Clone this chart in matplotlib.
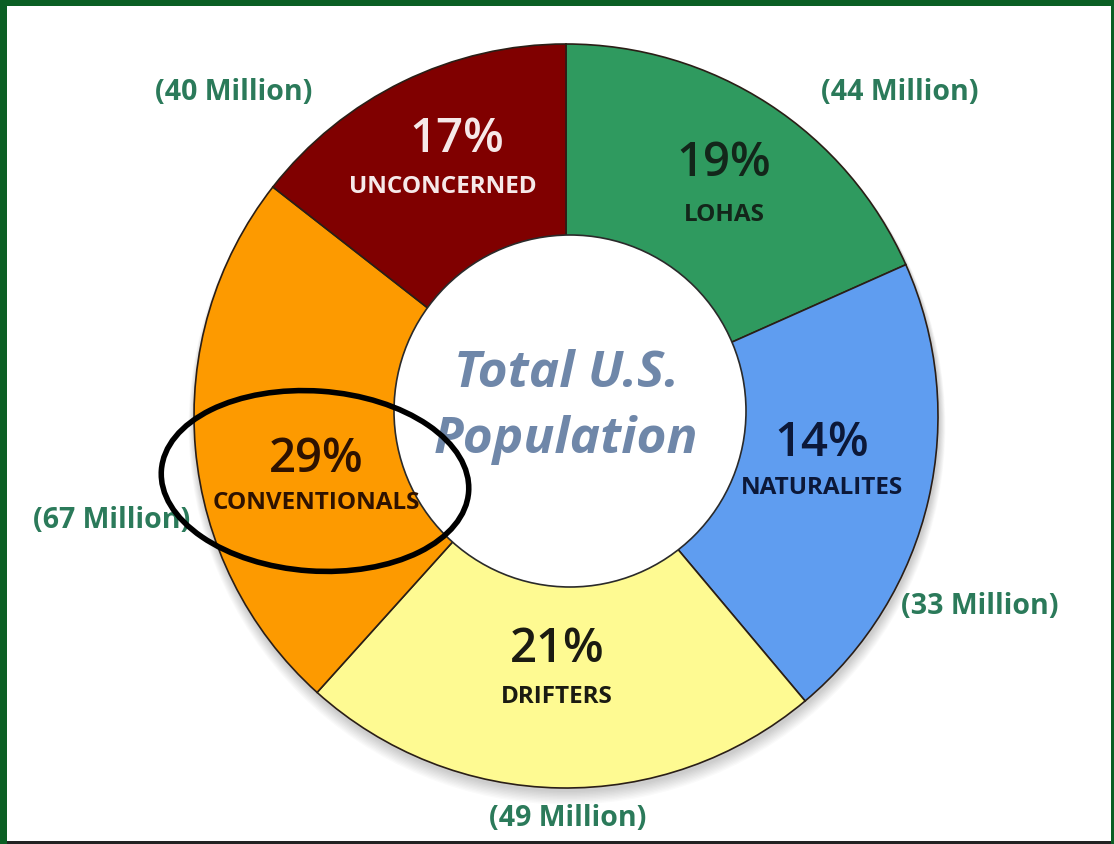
import matplotlib
matplotlib.use("Agg")
import matplotlib.pyplot as plt
from matplotlib.patches import Circle, Ellipse, Rectangle

# ---- data ----
segments = ["LOHAS", "NATURALITES", "DRIFTERS", "CONVENTIONALS", "UNCONCERNED"]
percent_labels = ["19%", "14%", "21%", "29%", "17%"]
millions = ["(44 Million)", "(33 Million)", "(49 Million)", "(67 Million)", "(40 Million)"]
# wedge sweep as drawn in the picture (degrees)
drawn_degrees = [66, 74, 82, 86, 52]
colors = ["#2f9a5f", "#5f9df0", "#fefa92", "#fd9a00", "#800000"]
text_colors = ["#13261a", "#0c1838", "#1b1b12", "#2e1200", "#f6e9e9"]

W, H = 1114, 844
fig = plt.figure(figsize=(W / 100, H / 100), dpi=100)
ax = fig.add_axes([0, 0, 1, 1])
ax.set_facecolor("white")


def Y(p):
    return H - p


cx, cy, R = 566, Y(416), 372

# soft shadow
for i in range(10):
    ax.add_patch(Circle((cx + 1, cy - 3 - i * 0.8), R + 1 + i * 0.6,
                        facecolor="black", edgecolor="none", alpha=0.018, zorder=1))

wedges, _ = ax.pie(drawn_degrees, colors=colors, startangle=90, counterclock=False,
                   center=(cx, cy), radius=R,
                   wedgeprops=dict(edgecolor="#2a1e16", linewidth=1.2))
for w in wedges:
    w.set_zorder(2)

# hole
ax.add_patch(Circle((570, Y(411)), 176, facecolor="white", edgecolor="#2a2a2a",
                    linewidth=1.2, zorder=3))

FONT = "Open Sans"
pct_pos = [(724, 163), (822, 443), (557, 650), (316, 460), (457, 140)]
name_pos = [(724, 215), (822, 488), (557, 697), (316, 503), (443, 187)]
for i, s in enumerate(segments):
    ax.text(pct_pos[i][0], Y(pct_pos[i][1]), percent_labels[i], ha="center", va="center",
            fontsize=34, fontweight="semibold", color=text_colors[i], family=FONT, zorder=5)
    ax.text(name_pos[i][0], Y(name_pos[i][1]), s, ha="center", va="center",
            fontsize=17.5, fontweight="bold", color=text_colors[i], family=FONT, zorder=5)

mil_pos = [(900, 93), (980, 606), (568, 818), (112, 520), (234, 93)]
for i, m in enumerate(millions):
    ax.text(mil_pos[i][0], Y(mil_pos[i][1]), m, ha="center", va="center",
            fontsize=20.5, fontweight="bold", color="#2b7a5a", family=FONT, zorder=5)

ax.text(566, Y(374), "Total U.S.", ha="center", va="center", fontsize=37,
        fontweight="bold", style="italic", color="#6f87a9", family=FONT, zorder=5)
ax.text(566, Y(440), "Population", ha="center", va="center", fontsize=37,
        fontweight="bold", style="italic", color="#6f87a9", family=FONT, zorder=5)

# highlight ellipse
ax.add_patch(Ellipse((315, Y(481)), 308, 180, angle=-4, facecolor="none",
                     edgecolor="black", linewidth=4, zorder=6))

# frame
ax.add_patch(Rectangle((0, 0), 7, H, facecolor="#0b5f24", edgecolor="none", zorder=10))
ax.add_patch(Rectangle((0, Y(6)), W, 6, facecolor="#0b5f24", edgecolor="none", zorder=10))
ax.add_patch(Rectangle((W - 3, 0), 3, H, facecolor="#0b5f24", edgecolor="none", zorder=10))
ax.add_patch(Rectangle((7, 0), W - 10, 3, facecolor="#222222", edgecolor="none", zorder=10))

ax.set_xlim(0, W)
ax.set_ylim(0, H)
ax.set_aspect("auto")
ax.axis("off")
fig.patch.set_facecolor("white")
fig.savefig("out.png", dpi=100)
